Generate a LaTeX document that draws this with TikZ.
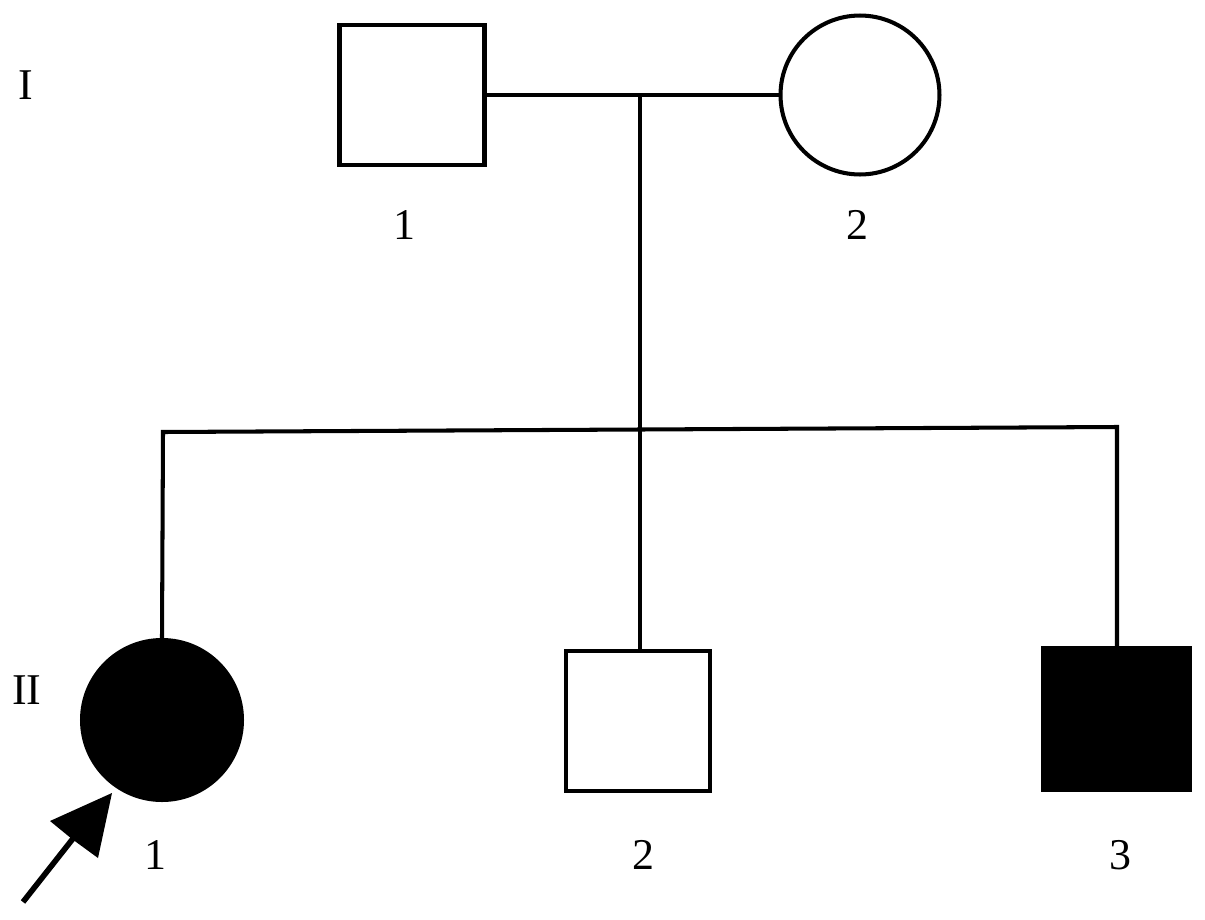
\documentclass[tikz,border=0pt]{standalone}
\usepackage{fontspec}
\setmainfont{Liberation Serif}
\begin{document}
\begin{tikzpicture}[x=0.02cm,y=-0.02cm,
  lw/.style={line width=2.3pt},
  male/.style={draw,lw,rectangle,minimum width=2.9cm,minimum height=2.8cm,inner sep=0pt},
  female/.style={draw,lw,circle,minimum size=3.18cm,inner sep=0pt},
  aff/.style={fill=black},
  lab/.style={font=\fontsize{25}{30}\selectfont,inner sep=0pt}]
\useasboundingbox (0,0) rectangle (1205,920);
% generation labels
\node[lab] (g1) at (26,85) {I};
\node[lab] (g2) at (27,690) {II};
% generation I
\node[male] (m1) at (412,95) {};
\node[female] (f2) at (860,95) {};
\node[lab] (l11) at (404,225) {1};
\node[lab] (l12) at (857,225) {2};
% generation II
\node[female,aff,minimum size=3.2cm] (c1) at (162,720) {};
\node[male,minimum width=2.88cm] (c2) at (638,721) {};
\node[male,aff,minimum width=2.94cm,minimum height=2.84cm] (c3) at (1116,719) {};
\node[lab] (l21) at (155,855) {1};
\node[lab] (l22) at (643,855) {2};
\node[lab] (l23) at (1120,855) {3};
% junctions
\coordinate (mj) at (640,95);
\coordinate (sl) at (163,432);
\coordinate (sm) at (640,430);
\coordinate (sr) at (1117,427);
% connectors
\draw[lw] (m1.east) -- (f2.west);
\draw[lw] (mj) -- (sm);
\draw[lw,line join=miter] (c1.north) -- (sl) -- (sr) -- (c3.north -| sr);
\draw[lw] (sm) -- (sm |- c2.north);
% proband arrow
\coordinate (at) at (23,902);
\coordinate (ah) at (112,793);
\draw[line width=3.2pt] (at) -- (75,836);
\fill (ah) -- (50,821) -- (72,839) -- (98,858) -- cycle;
\end{tikzpicture}
\end{document}
